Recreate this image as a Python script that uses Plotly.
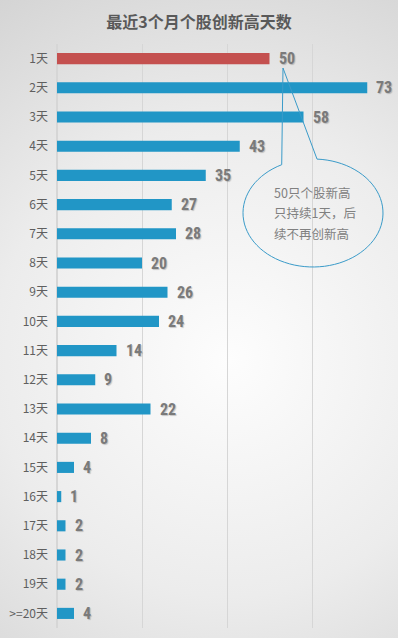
import base64
import numpy as np
import plotly.graph_objects as go

# ---- data ----
categories = ["1天", "2天", "3天", "4天", "5天", "6天", "7天", "8天", "9天", "10天",
              "11天", "12天", "13天", "14天", "15天", "16天", "17天", "18天", "19天", ">=20天"]
counts = [50, 73, 58, 43, 35, 27, 28, 20, 26, 24, 14, 9, 22, 8, 4, 1, 2, 2, 2, 4]
title_text = "最近3个月个股创新高天数"
callout_lines = ["50只个股新高", "只持续1天，后", "续不再创新高"]

W, H = 398, 638
ML, MR, MT, MB = 57, 1, 44, 10
PW, PH = W - ML - MR, H - MT - MB

def px2paper(px, py):
    return (px - ML) / PW, (H - MB - py) / PH

bar_colors = ["#C4504F"] + ["#2196C6"] * (len(categories) - 1)

fig = go.Figure()
fig.add_trace(go.Bar(
    x=counts, y=categories, orientation="h",
    marker=dict(color=bar_colors, line=dict(width=0)),
    width=0.38, hoverinfo="x+y",
))

# value labels
for c, v in zip(categories, counts):
    fig.add_annotation(
        x=v, y=c, xref="x", yref="y", text=f"<b>{v}</b>", showarrow=False,
        xanchor="left", yanchor="middle", xshift=7,
        font=dict(family="Impact, 'Liberation Sans Narrow', 'Roboto Condensed', Roboto, sans-serif",
                  size=16, color="#7a7a7a", weight=900,
                  shadow="1px 1px 1px rgba(0,0,0,0.2)"),
    )

# background radial gradient
svg = (f"<svg xmlns='http://www.w3.org/2000/svg' width='{W}' height='{H}'>"
       "<defs><radialGradient id='g' gradientUnits='userSpaceOnUse' cx='230' cy='360' r='430'>"
       "<stop offset='0' stop-color='#fdfdfd'/><stop offset='0.55' stop-color='#ececec'/>"
       "<stop offset='1' stop-color='#d4d4d4'/></radialGradient></defs>"
       f"<rect width='{W}' height='{H}' fill='url(#g)'/></svg>")
src = "data:image/svg+xml;base64," + base64.b64encode(svg.encode()).decode()
x0p, y0p = px2paper(0, 0)
fig.add_layout_image(dict(source=src, xref="paper", yref="paper", x=x0p, y=y0p,
                          sizex=W / PW, sizey=H / PH, xanchor="left", yanchor="top",
                          sizing="stretch", layer="below"))

# callout bubble
cx, cy, rx, ry = 313, 213, 70, 54
tip = (283, 68)
thA = np.arctan2(165 - cy, (289 - cx)) + 2 * np.pi
thB = np.arctan2(161 - cy, (316 - cx))
ths = np.linspace(thB, thA, 80)
pts = [(cx + rx * np.cos(t), cy + ry * np.sin(t)) for t in ths] + [tip]
path = "M " + " L ".join("{:.4f},{:.4f}".format(*px2paper(x, y)) for x, y in pts) + " Z"
fig.add_shape(type="path", path=path, xref="paper", yref="paper",
              line=dict(color="#3A9BC9", width=1), fillcolor="rgba(255,255,255,0)")
for i, line in enumerate(callout_lines):
    xp, yp = px2paper(272, 192 + 20.5 * i)
    fig.add_annotation(x=xp, y=yp, xref="paper", yref="paper", text=line,
                       showarrow=False, xanchor="left", yanchor="middle",
                       font=dict(family="Noto Sans CJK SC", size=12.5, color="#808080"))

fig.update_layout(
    width=W, height=H,
    margin=dict(l=ML, r=MR, t=MT, b=MB),
    paper_bgcolor="#e6e6e6", plot_bgcolor="rgba(0,0,0,0)",
    showlegend=False,
    title=dict(text=f"<b>{title_text}</b>", x=0.5, xref="container", xanchor="center",
               y=1 - 22 / H, yanchor="middle",
               font=dict(family="Noto Sans CJK SC", size=16, color="#595959")),
    xaxis=dict(range=[0, 80], dtick=20, showgrid=True, gridcolor="#d6d6d6", gridwidth=1,
               zeroline=True, zerolinecolor="#d6d6d6", showticklabels=False,
               showline=False, fixedrange=True),
    yaxis=dict(type="category", categoryorder="array", categoryarray=categories,
               range=[len(categories) - 0.5, -0.5], showgrid=False, ticks="",
               ticklabelstandoff=8, showline=False, fixedrange=True,
               tickfont=dict(family="Noto Sans CJK SC", size=12, color="#5f5f5f")),
    bargap=0.62,
)

fig.write_html("out.html", config={"displayModeBar": False},
               post_script="document.body.style.margin='0';document.body.style.padding='0';")
